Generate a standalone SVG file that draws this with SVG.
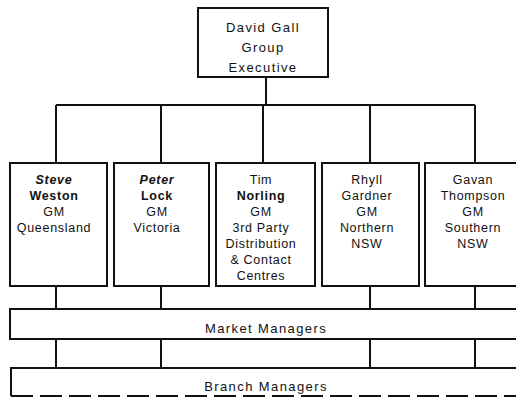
<svg xmlns="http://www.w3.org/2000/svg" width="516" height="397" viewBox="0 0 516 397">
  <style>
    .box { fill: #fff; stroke: #111; stroke-width: 2; }
    .wire { fill: none; stroke: #111; stroke-width: 2; }
    .t { font-family: "Liberation Sans", Arial, sans-serif; font-size: 12.5px; fill: #111; text-anchor: middle; letter-spacing: 0.7px; }
    .big { font-size: 13px; letter-spacing: 1.4px; }
    .b { font-weight: bold; }
    .bi { font-weight: bold; font-style: italic; }
  </style>
  <rect width="516" height="397" fill="#fff"/>

  <!-- connectors -->
  <g id="connectors">
    <path class="wire" d="M266 77 V105 M56 105 H475 M56 105 V163 M161 105 V163 M263 105 V163 M370 105 V163 M475 105 V163"/>
    <path class="wire" d="M56 286 V309 M161 286 V309 M370 286 V309 M475 286 V309"/>
    <path class="wire" d="M56 339 V368 M161 339 V368 M370 339 V368 M475 339 V368"/>
  </g>

  <g id="group-executive">
    <rect class="box" x="198" y="8" width="130" height="69"/>
    <text class="t big" x="263" y="32">David Gall</text>
    <text class="t big" x="263" y="51.5">Group</text>
    <text class="t big" x="263" y="72">Executive</text>
  </g>

  <g id="gm-queensland">
    <rect class="box" x="10" y="163" width="97" height="123"/>
    <text class="t bi" x="54" y="184">Steve</text>
    <text class="t b" x="54" y="200">Weston</text>
    <text class="t" x="54" y="216">GM</text>
    <text class="t" x="54" y="232">Queensland</text>
  </g>

  <g id="gm-victoria">
    <rect class="box" x="114" y="163" width="95" height="123"/>
    <text class="t bi" x="157" y="184">Peter</text>
    <text class="t b" x="157" y="200">Lock</text>
    <text class="t" x="157" y="216">GM</text>
    <text class="t" x="157" y="232">Victoria</text>
  </g>

  <g id="gm-third-party">
    <rect class="box" x="216" y="163" width="99" height="123"/>
    <text class="t" x="261" y="184">Tim</text>
    <text class="t b" x="261" y="200">Norling</text>
    <text class="t" x="261" y="216">GM</text>
    <text class="t" x="261" y="232">3rd Party</text>
    <text class="t" x="261" y="248">Distribution</text>
    <text class="t" x="261" y="264">&amp; Contact</text>
    <text class="t" x="261" y="280">Centres</text>
  </g>

  <g id="gm-northern-nsw">
    <rect class="box" x="322" y="163" width="97" height="123"/>
    <text class="t" x="367" y="184">Rhyll</text>
    <text class="t" x="367" y="200">Gardner</text>
    <text class="t" x="367" y="216">GM</text>
    <text class="t" x="367" y="232">Northern</text>
    <text class="t" x="367" y="248">NSW</text>
  </g>

  <g id="gm-southern-nsw">
    <rect class="box" x="425" y="163" width="105" height="123"/>
    <text class="t" x="473" y="184">Gavan</text>
    <text class="t" x="473" y="200">Thompson</text>
    <text class="t" x="473" y="216">GM</text>
    <text class="t" x="473" y="232">Southern</text>
    <text class="t" x="473" y="248">NSW</text>
  </g>

  <g id="market-managers">
    <rect class="box" x="10" y="309" width="520" height="30"/>
    <text class="t big" x="266" y="333">Market Managers</text>
  </g>

  <g id="branch-managers">
    <path class="wire" d="M530 368 H11 V396"/>
    <path class="wire" d="M11 396 H530" stroke-dasharray="22 7"/>
    <text class="t big" x="266" y="391">Branch Managers</text>
  </g>
</svg>
